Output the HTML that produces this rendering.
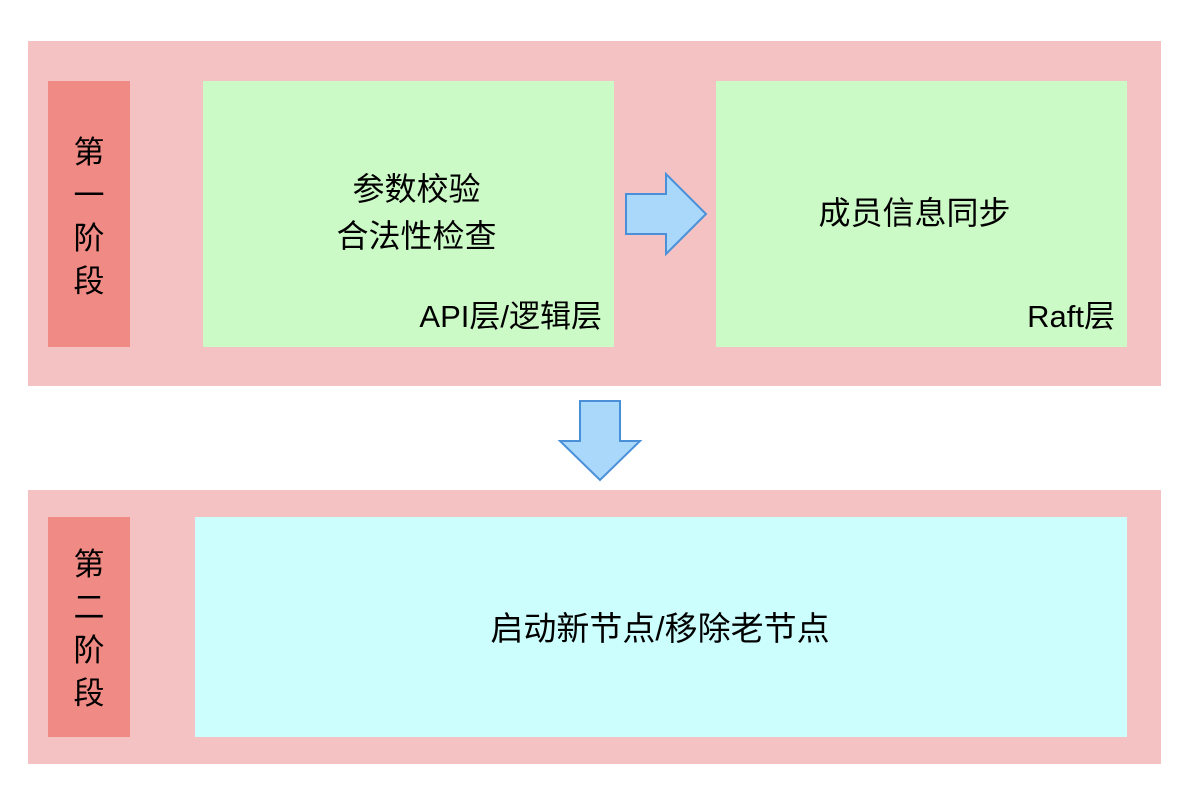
<!DOCTYPE html>
<html><head><meta charset="utf-8"><style>
body{margin:0;width:1200px;height:804px;background:#fff;position:relative;font-family:"Liberation Sans","Noto Sans CJK SC",sans-serif;color:#000;overflow:hidden}
div{position:absolute;box-sizing:border-box}
.o{background:#f4c2c2}
.l{background:#f08a84}
.g{background:#ccfac6}
.t{font-size:31px;white-space:nowrap;line-height:40px}
.v{font-size:31px;width:82px;text-align:center;line-height:43px}
</style></head><body>
<div class="o" style="left:28px;top:41px;width:1133px;height:345px"></div>
<div class="l" style="left:48px;top:81px;width:82px;height:266px"></div>
<div class="v" style="left:48px;top:131px">第<br>一<br>阶<br>段</div>
<div class="g" style="left:203px;top:81px;width:411px;height:266px"></div>
<div class="t" style="left:211px;width:411px;top:166px;text-align:center;line-height:47px;font-size:32px">参数校验<br>合法性检查</div>
<div class="t" style="right:598px;top:297px">API层/逻辑层</div>
<div class="g" style="left:716px;top:81px;width:411px;height:266px"></div>
<div class="t" style="left:709px;width:411px;top:193px;text-align:center;font-size:32px">成员信息同步</div>
<div class="t" style="right:85px;top:297px">Raft层</div>
<svg style="position:absolute;left:0;top:0" width="1200" height="804">
<polygon points="626,194 666,194 666,174 706,214 666,254 666,234 626,234" fill="#aad8fb" stroke="#4a90d9" stroke-width="2"/>
<polygon points="580,401 620,401 620,441 640,441 600,480 560,441 580,441" fill="#aad8fb" stroke="#4a90d9" stroke-width="2"/>
</svg>
<div class="o" style="left:28px;top:490px;width:1133px;height:274px"></div>
<div class="l" style="left:48px;top:517px;width:82px;height:220px"></div>
<div class="v" style="left:48px;top:543px">第<br>二<br>阶<br>段</div>
<div style="left:195px;top:517px;width:932px;height:220px;background:#ccfefe"></div>
<div class="t" style="left:194px;width:932px;top:609px;text-align:center;font-size:33px">启动新节点/移除老节点</div>
</body></html>
